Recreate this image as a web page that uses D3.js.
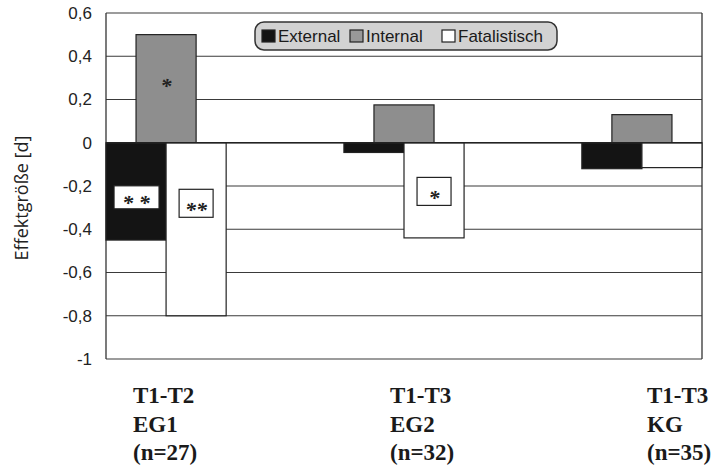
<!DOCTYPE html>
<html>
<head>
<meta charset="utf-8">
<script src="https://cdn.jsdelivr.net/npm/d3@7"></script>
<style>
  body { margin: 0; background: #fff; }
  svg { display: block; }
  .tick text { font-family: "Liberation Sans", Arial, sans-serif; }
</style>
</head>
<body>
<div id="chart"></div>
<script>
// data
var categories = ["T1-T2|EG1|(n=27)", "T1-T3|EG2|(n=32)", "T1-T3|KG|(n=35)"];
var series = ["External", "Internal", "Fatalistisch"];
var external = [-0.45, -0.045, -0.12];
var internal = [0.5, 0.175, 0.13];
var fatalistisch = [-0.8, -0.44, -0.115];
var yTicks = [0.6, 0.4, 0.2, 0, -0.2, -0.4, -0.6, -0.8, -1];
// significance marks: category index, series, label, value where the mark sits
var marks = [
  {cat: 0, s: "External", label: "* *", v: -0.25, box: true},
  {cat: 0, s: "Fatalistisch", label: "**", v: -0.28, box: true},
  {cat: 0, s: "Internal", label: "*", v: 0.29, box: false},
  {cat: 1, s: "Fatalistisch", label: "*", v: -0.225, box: true}
];

var values = {External: external, Internal: internal, Fatalistisch: fatalistisch};
var colors = {External: "#141414", Internal: "#8e8e8e", Fatalistisch: "#ffffff"};

var W = 715, H = 467;
var plot = {left: 106, right: 702, top: 13, bottom: 359};

var svg = d3.select("#chart").append("svg")
  .attr("width", W).attr("height", H);

var y = d3.scaleLinear().domain([-1, 0.6]).range([plot.bottom, plot.top]);
var x = d3.scaleBand().domain(d3.range(categories.length))
  .range([plot.left, plot.right]).paddingInner(0.495).paddingOuter(0);
var bw = x.bandwidth() / 2;

// bar x position per series inside a category band
function barX(s, i) {
  if (s === "External") return x(i);
  if (s === "Fatalistisch") return x(i) + bw;
  return x(i) + bw / 2; // internal sits centred over the pair
}

// grid
svg.append("g").selectAll("line").data(yTicks).join("line")
  .attr("x1", plot.left).attr("x2", plot.right)
  .attr("y1", function(d) { return y(d); }).attr("y2", function(d) { return y(d); })
  .attr("stroke", "#3a3a3a").attr("stroke-width", 1.2);

// frame sides
svg.append("line").attr("x1", plot.left).attr("x2", plot.left)
  .attr("y1", plot.top).attr("y2", plot.bottom).attr("stroke", "#333").attr("stroke-width", 1.3);
svg.append("line").attr("x1", plot.right).attr("x2", plot.right)
  .attr("y1", plot.top).attr("y2", plot.bottom).attr("stroke", "#333").attr("stroke-width", 1.3);

// bars
series.forEach(function(s) {
  svg.append("g").selectAll("rect").data(values[s]).join("rect")
    .attr("x", function(d, i) { return barX(s, i); })
    .attr("width", bw)
    .attr("y", function(d) { return y(Math.max(0, d)); })
    .attr("height", function(d) { return Math.abs(y(d) - y(0)); })
    .attr("fill", colors[s])
    .attr("stroke", "#222").attr("stroke-width", 1.2);
});

// zero line on top
svg.append("line").attr("x1", plot.left).attr("x2", plot.right)
  .attr("y1", y(0)).attr("y2", y(0)).attr("stroke", "#222").attr("stroke-width", 1.4);

// significance marks
var mk = svg.append("g").selectAll("g").data(marks).join("g")
  .attr("transform", function(d) {
    return "translate(" + (barX(d.s, d.cat) + bw / 2) + "," + y(d.v) + ")";
  });
mk.filter(function(d) { return d.box; }).append("rect")
  .attr("x", function(d) { return d.label === "* *" ? -22 : -17; })
  .attr("width", function(d) { return d.label === "* *" ? 45 : 34; })
  .attr("y", function(d) { return d.label === "* *" ? -11 : -14; })
  .attr("height", function(d) { return d.label === "* *" ? 23 : 28; })
  .attr("fill", "#fff").attr("stroke", "#222").attr("stroke-width", 1.2);
mk.append("text")
  .attr("text-anchor", "middle").attr("dy", "0.6em")
  .attr("font-family", "Liberation Serif, serif").attr("font-style", "italic")
  .attr("font-weight", "bold").attr("font-size", 22)
  .attr("fill", "#222")
  .text(function(d) { return d.label; });

// y axis labels
var yAxis = d3.axisLeft(y).tickValues(yTicks).tickSize(0).tickPadding(14)
  .tickFormat(function(d) { return String(+d.toFixed(1)).replace(".", ","); });
svg.append("g").attr("transform", "translate(" + plot.left + ",0)").call(yAxis)
  .call(function(g) { g.select(".domain").remove(); })
  .selectAll("text").attr("font-size", 17).attr("fill", "#222");

svg.append("text")
  .attr("transform", "translate(28," + 198 + ") rotate(-90)")
  .attr("text-anchor", "middle")
  .style("font-family", "'Open Sans', sans-serif").style("font-size", "18px")
  .attr("fill", "#222")
  .text("Effektgröße [d]");

// category labels
var xl = d3.scalePoint().domain(d3.range(categories.length)).range([133, 647]);
var catText = svg.append("g").selectAll("text").data(categories).join("text")
  .attr("x", function(d, i) { return xl(i); })
  .attr("y", 403)
  .attr("font-family", "Liberation Serif, serif").attr("font-weight", "bold")
  .attr("font-size", 23).attr("fill", "#1a1a1a");
catText.selectAll("tspan").data(function(d) { return d.split("|"); }).join("tspan")
  .attr("x", function() { return d3.select(this.parentNode).attr("x"); })
  .attr("dy", function(d, i) { return i === 0 ? 0 : 28.5; })
  .text(function(d) { return d; });

// legend
var lg = svg.append("g");
lg.append("rect").attr("x", 255).attr("y", 22).attr("width", 302).attr("height", 28)
  .attr("rx", 9).attr("fill", "#d2d2d2").attr("stroke", "#333").attr("stroke-width", 1.5);
var legX = [262, 350, 442];
series.forEach(function(s, i) {
  lg.append("rect").attr("x", legX[i]).attr("y", 30).attr("width", 13).attr("height", 12)
    .attr("fill", s === "Internal" ? "#999" : colors[s]).attr("stroke", "#222").attr("stroke-width", 1.2);
  lg.append("text").attr("x", legX[i] + 16).attr("y", 42)
    .attr("font-family", "Liberation Sans, Arial, sans-serif").attr("font-size", 17)
    .attr("fill", "#1a1a1a")
    .text(s);
});
</script>
</body>
</html>
